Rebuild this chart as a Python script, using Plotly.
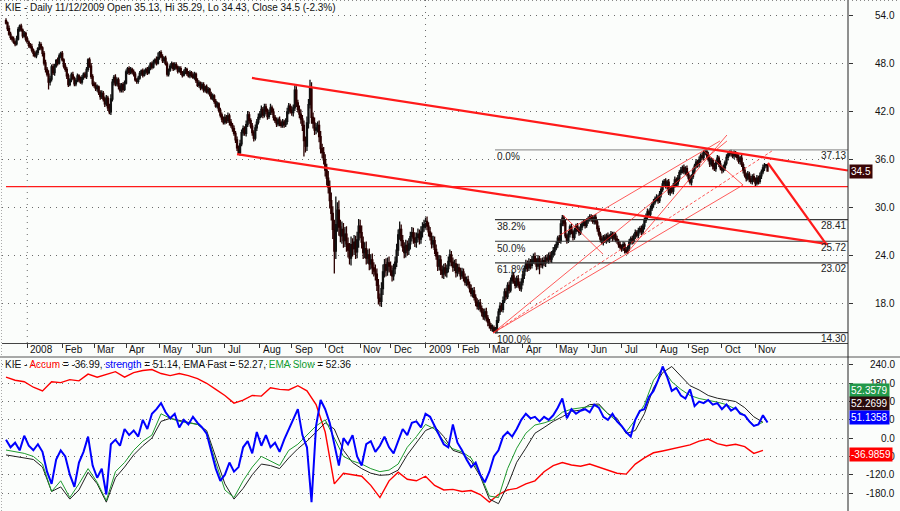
import plotly.graph_objects as go

W, H = 900, 511
FONT = "Liberation Sans, Arial, sans-serif"

# ---------------- data ----------------
month_labels = ["Dec", "2008", "Feb", "Mar", "Apr", "May", "Jun", "Jul", "Aug", "Sep", "Oct", "Nov", "Dec",
                "2009", "Feb", "Mar", "Apr", "May", "Jun", "Jul", "Aug", "Sep", "Oct", "Nov"]
month_days = [14, 23, 21, 21, 22, 22, 21, 23, 21, 22, 23, 20, 23,
              22, 20, 22, 22, 21, 22, 23, 21, 22, 22, 9]

first_open = 53.3
close = [
    # Dec 07
    53.0, 52.3, 51.6, 51.2, 51.0, 50.6, 50.4, 51.0, 52.2, 52.6, 52.1, 51.4, 51.7, 51.0,
    # Jan 08
    50.6, 50.2, 50.0, 49.6, 49.2, 48.9, 49.3, 49.8, 50.3, 49.9, 49.2, 48.0, 47.2, 46.6, 45.6, 46.0, 47.5, 46.8, 47.6, 48.3, 48.0, 48.9, 49.2,
    # Feb
    48.4, 47.6, 47.2, 46.4, 45.3, 45.9, 46.5, 46.1, 45.4, 45.8, 46.4, 45.9, 45.6, 46.2, 46.6, 46.3, 47.2, 48.4, 47.6, 46.3, 45.4,
    # Mar
    45.2, 44.8, 45.0, 44.3, 43.8, 44.2, 43.5, 42.9, 43.6, 42.4, 41.9, 43.5, 45.6, 46.2, 45.4, 45.9, 45.1, 44.6, 45.3, 44.7, 45.5,
    # Apr
    46.9, 47.3, 46.8, 47.2, 46.9, 46.6, 45.9, 45.7, 46.1, 46.7, 47.0, 46.5, 46.9, 47.2, 46.8, 47.4, 47.9, 47.5, 48.1, 48.4, 48.0, 48.7,
    # May
    49.3, 48.8, 48.3, 48.6, 47.9, 46.6, 47.1, 47.6, 47.9, 47.3, 47.8, 47.5, 47.0, 47.3, 46.8, 46.5, 46.9, 47.2, 46.7, 46.4, 46.8, 46.5,
    # Jun
    46.2, 46.6, 45.8, 45.2, 45.5, 44.9, 45.3, 44.6, 45.0, 44.4, 44.7, 44.1, 43.6, 43.9, 43.2, 42.6, 42.9, 42.1, 41.5, 41.0, 40.6,
    # Jul
    41.2, 40.8, 41.4, 40.6, 40.2, 39.8, 39.2, 38.4, 37.4, 36.8, 37.9, 39.3, 39.8, 39.2, 40.3, 41.5, 40.8, 40.1, 39.3, 38.6, 39.9, 40.6, 41.2,
    # Aug
    41.6, 42.2, 41.5, 42.5, 42.0, 41.3, 41.8, 42.4, 41.9, 41.2, 40.8, 40.4, 40.9, 40.5, 40.2, 40.6, 40.3, 40.7, 41.9, 42.6, 42.1,
    # Sep
    41.8, 42.4, 44.6, 43.0, 42.2, 41.6, 41.0, 40.2, 38.3, 37.6, 40.5, 42.8, 44.8, 41.2, 40.5, 39.6, 39.9, 40.2, 38.8, 37.3, 36.8, 35.9,
    # Oct
    34.6, 33.6, 32.5, 30.8, 29.2, 27.2, 24.5, 27.8, 29.6, 27.5, 26.4, 27.2, 25.8, 26.6, 25.4, 24.6, 23.6, 25.3, 24.8, 25.6, 24.4, 25.9, 27.6,
    # Nov
    26.8, 25.6, 24.3, 24.8, 23.6, 24.0, 22.9, 23.4, 22.4, 22.0, 21.6, 20.2, 18.6, 18.2, 19.8, 21.9, 22.8, 22.1, 23.0, 22.6,
    # Dec
    22.0, 21.4, 22.3, 23.1, 24.6, 26.5, 27.2, 25.8, 25.0, 24.3, 25.2, 24.6, 25.4, 26.3, 26.8, 26.1, 25.6, 26.2, 26.6, 26.0, 26.9, 27.5, 27.8,
    # Jan 09
    28.2, 27.6, 26.9, 26.3, 25.4, 25.8, 24.7, 23.9, 22.6, 23.4, 22.1, 21.6, 22.4, 21.8, 22.3, 23.2, 24.0, 23.1, 22.5, 22.9, 21.8, 22.4,
    # Feb
    22.0, 21.4, 21.9, 21.2, 20.6, 20.9, 20.3, 19.8, 19.2, 19.5, 18.7, 18.1, 17.6, 18.0, 17.3, 16.8, 16.3, 16.9, 16.1, 15.6,
    # Mar
    15.2, 14.8, 14.9, 14.5, 14.6, 15.8, 16.9, 17.6, 17.2, 18.3, 19.4, 18.8, 20.2, 19.6, 20.8, 21.4, 20.7, 20.2, 21.0, 20.3, 19.8, 20.6,
    # Apr
    21.5, 22.3, 22.9, 22.4, 23.1, 22.7, 23.4, 23.8, 23.2, 22.6, 23.5, 23.1, 22.8, 23.3, 23.0, 23.6, 23.4, 23.9, 23.5, 24.1, 24.5, 24.9,
    # May
    25.3, 26.1, 25.8, 27.9, 28.6, 28.0, 26.4, 25.8, 26.6, 27.5, 26.9, 26.2, 27.0, 27.6, 27.2, 26.8, 27.5, 27.9, 28.1, 27.7, 28.3,
    # Jun
    28.5, 28.8, 28.6, 28.2, 28.7, 28.1, 27.3, 26.6, 26.0, 25.6, 26.2, 25.8, 26.4, 25.9, 26.3, 26.6, 26.1, 26.5, 26.0, 25.7, 25.3, 25.0,
    # Jul
    24.8, 25.3, 24.6, 24.4, 24.9, 25.6, 26.0, 25.7, 26.4, 26.8, 26.5, 27.0, 27.3, 26.9, 27.6, 28.3, 28.9, 29.4, 29.1, 29.8, 30.3, 30.6, 31.0,
    # Aug
    31.2, 30.8, 31.6, 32.2, 32.9, 33.2, 32.6, 33.1, 31.8, 32.3, 32.0, 32.7, 33.4, 32.9, 33.6, 34.3, 34.6, 34.9, 34.4, 34.8, 34.1,
    # Sep
    33.6, 33.1, 33.8, 34.5, 35.1, 35.6, 35.3, 35.9, 36.4, 36.2, 36.8, 37.0, 36.5, 36.0, 35.4, 35.8, 35.1, 34.8, 35.6, 36.1, 35.4, 34.9,
    # Oct
    34.6, 34.9, 35.5, 36.2, 36.6, 36.9, 36.7, 36.4, 36.8, 36.5, 36.2, 35.7, 36.1, 35.3, 34.6, 34.0, 33.6, 34.1, 33.5, 33.2, 33.8, 33.4,
    # Nov
    33.0, 33.6, 33.2, 33.9, 34.4, 34.9, 35.2, 35.3, 34.5,
]

wick_hi = [
    .3, .2, .4, .3, .2, .3, .2, .4, .3, .2, .3, .2, .3, .2,
    .3, .2, .3, .4, .2, .3, .3, .2, .4, .3, .2, .3, .4, .3, .5, .4, .3, .4, .3, .2, .4, .3, .2,
    .3, .2, .4, .3, .3, .2, .3, .4, .2, .3, .3, .2, .4, .3, .2, .3, .3, .2, .3, .4, .3,
    .3, .4, .3, .2, .3, .4, .3, .3, .4, .3, .5, .6, .4, .3, .4, .3, .3, .4, .2, .3, .3,
    .3, .2, .3, .3, .2, .3, .3, .2, .3, .3, .2, .3, .3, .2, .3, .3, .2, .3, .3, .2, .4, .6,
    .2, .3, .3, .2, .3, .3, .2, .3, .3, .2, .3, .3, .2, .3, .3, .2, .3, .3, .2, .3, .3, .2,
    .3, .3, .2, .3, .3, .2, .3, .3, .2, .3, .3, .2, .3, .3, .2, .3, .3, .2, .3, .3, .3,
    .4, .3, .4, .3, .4, .3, .4, .3, .4, .3, .5, .4, .4, .3, .5, .5, .4, .3, .4, .3, .4, .4, .5,
    .4, .5, .3, .4, .4, .3, .4, .5, .3, .4, .3, .4, .3, .4, .3, .4, .3, .4, .5, .4, .3,
    .5, .4, .6, .5, .4, .5, .6, .5, .6, .5, .8, .7, 1.1, .8, .6, .7, .6, .5, .6, .7, .6, .7,
    .7, .8, .9, .8, 1.0, .9, 1.2, 3.5, 1.0, 1.2, .9, 1.0, .8, .9, 1.0, .8, .9, 1.0, .8, .9, .8, 1.0, .9,
    .8, .9, .7, .8, .9, .7, .8, .7, .8, .7, .8, .7, .8, .6, .8, .9, .7, .8, .7, .8,
    .6, .7, .6, .7, .8, .7, 1.0, .6, .7, .6, .7, .6, .7, .6, .7, .6, .7, .6, .7, .6, .7, .6, .6,
    .5, .6, .5, .6, .5, .6, .5, .6, .5, .6, .5, .6, .5, .6, .5, .6, .7, .5, .6, .5, .6, .5,
    .5, .4, .5, .4, .5, .4, .5, .4, .5, .4, .5, .4, .5, .4, .5, .4, .5, .4, .5, .4,
    .4, .3, .4, .3, .4, .5, .4, .5, .4, .5, .4, .5, .4, .5, .4, .5, .4, .5, .4, .5, .4, .5,
    .5, .4, .5, .4, .5, .4, .5, .4, .5, .4, .5, .4, .5, .4, .5, .4, .5, .4, .5, .4, .5, .4,
    .4, .3, .4, .5, .4, .3, .4, .3, .4, .3, .4, .3, .4, .3, .4, .3, .4, .3, .4, .3, .3,
    .3, .3, .3, .4, .3, .4, .3, .4, .3, .4, .3, .4, .3, .4, .3, .4, .3, .4, .3, .4, .3, .4,
    .3, .4, .3, .4, .3, .4, .3, .4, .3, .4, .3, .4, .3, .4, .3, .4, .3, .4, .3, .4, .3, .4, .3,
    .4, .3, .4, .3, .4, .3, .4, .3, .4, .3, .4, .3, .4, .3, .4, .3, .4, .3, .4, .3, .4,
    .3, .4, .3, .4, .3, .4, .3, .4, .3, .4, .3, .13, .3, .4, .3, .4, .3, .4, .3, .4, .3, .4,
    .3, .4, .3, .4, .3, .2, .3, .2, .3, .2, .3, .4, .3, .4, .3, .4, .3, .4, .3, .4, .3, .4,
    .3, .4, .3, .4, .3, .4, .3, .0, .0,
]

wick_lo = [
    .2, .3, .2, .3, .3, .2, .3, .2, .2, .3, .2, .3, .2, .3,
    .2, .3, .2, .3, .4, .2, .3, .3, .2, .3, .4, .3, .4, .3, .9, .4, .3, .3, .4, .2, .3, .2, .3,
    .2, .3, .3, .4, .3, .2, .3, .2, .3, .3, .2, .3, .2, .3, .3, .2, .3, .3, .2, .3, .3,
    .3, .3, .4, .3, .4, .3, .3, .4, .3, .4, .3, .4, .3, .4, .3, .3, .4, .3, .3, .4, .2,
    .2, .3, .3, .2, .3, .3, .2, .3, .3, .2, .3, .3, .2, .3, .3, .2, .3, .3, .2, .3, .3, .2,
    .3, .2, .3, .3, .2, .3, .3, .2, .3, .3, .2, .3, .3, .2, .3, .3, .2, .3, .3, .2, .3, .3,
    .2, .3, .3, .2, .3, .3, .2, .3, .3, .2, .3, .3, .2, .3, .3, .2, .3, .3, .3, .4, .3,
    .3, .4, .3, .4, .3, .4, .3, .4, .4, .2, .4, .3, .4, .3, .4, .3, .4, .3, .4, .4, .3, .4, .3,
    .3, .4, .4, .3, .4, .4, .3, .3, .4, .4, .3, .4, .3, .4, .3, .3, .4, .3, .4, .3, .4,
    .4, .5, .4, .5, .4, .5, .6, .7, 2.0, .8, .6, .7, .5, .8, .7, .6, .5, .6, .7, .6, .7, .6,
    .8, .9, .8, 1.0, .9, 1.2, 2.8, 1.0, .9, 1.1, .8, 1.0, .9, .8, 1.0, .9, .8, .9, 1.0, .8, .9, .8, 1.0,
    .7, .8, .8, .7, .8, .7, .8, .7, .8, .7, .8, .7, .8, .6, .7, .8, .7, .8, .7, .8,
    .6, .7, .6, .7, .6, .7, .6, .7, .6, .7, .6, .7, .6, .7, .6, .7, .6, .7, .6, .7, .6, .7, .6,
    .6, .5, .6, .5, .6, .5, .6, .5, .6, .5, .6, .5, .6, .5, .6, .5, .6, .5, .6, .5, .6, .5,
    .4, .5, .4, .5, .4, .5, .4, .5, .4, .5, .4, .5, .4, .5, .4, .5, .4, .5, .4, .5,
    .4, .3, .4, .2, .3, .4, .3, .4, .3, .4, .3, .4, .3, .4, .3, .4, .3, .4, .3, .4, .3, .4,
    .4, .5, .4, .5, .4, .5, .4, .5, .4, .5, .4, 1.5, .4, .5, .4, .5, .4, .5, .4, .5, .4, .5,
    .3, .4, .3, .4, .3, .4, .3, .4, .3, .4, .3, .4, .3, .4, .3, .4, .3, .4, .3, .4, .3,
    .4, .3, .4, .3, .4, .3, .4, .3, .4, .3, .4, .3, .4, .3, .4, .3, .4, .3, .4, .3, .4, .3,
    .4, .3, .4, .2, .3, .4, .3, .4, .3, .4, .3, .4, .3, .4, .3, .4, .3, .4, .3, .4, .3, .4, .3,
    .3, .4, .3, .4, .3, .4, .3, .4, .3, .4, .3, .4, .3, .4, .3, .4, .3, .4, .3, .4, .3,
    .4, .3, .4, .3, .4, .3, .4, .3, .4, .3, .4, .3, .4, .3, .4, .3, .4, .3, .4, .3, .4, .3,
    .4, .3, .4, .3, .4, .3, .4, .3, .4, .3, .4, .3, .4, .3, .4, .3, .4, .3, .4, .3, .4, .3,
    .4, .3, .4, .3, .4, .3, .4, .3, .07,
]

# indicator panel: strength sampled every 3 bars, the others every 6 bars
strength_step = 3
strength = [
    -5, -30, -15, -40, 8, -25, -40, -20, -45, -110,
    -150, -70, -40, -60, -120, -160, -80, -45, 5, -90,
    -130, -100, -185, -20, -5, -25, 30, 10, 25, 5,
    60, 30, 80, 95, 115, 85, 65, 80, 35, 60,
    45, 70, 50, 35, 15, -40, -100, -140, -120, -80,
    -110, -95, -30, -10, -50, 20, -25, 10, -30, -15,
    -45, -5, 30, 60, 95, 10, -30, -210, 40, 125,
    95, 50, -20, -90, 0, -20, 10, -60, -90, -20,
    -10, -45, -25, 5, -30, -50, -10, 30, 10, 50,
    55, 35, 80, 70, 40, 10, -20, -30, 45, -15,
    -40, -70, -95, -80, -120, -145, -110, -60, -40, 5,
    20, 5, 30, 60, 80, 65, 70, 55, 70, 60,
    75, 100, 130, 65, 95, 80, 90, 95, 85, 110,
    100, 70, 60, 80, 55, 40, 20, 5, 60, 90,
    95, 135, 155, 190, 235, 200, 155, 165, 140, 130,
    160, 105, 120, 115, 125, 110, 115, 95, 110, 90,
    100, 80, 75, 55, 40, 45, 75, 51,
]
line_step = 6
ema_slow = [
    -39, -45, -50, -60, -85, -175, -140, -195, -150, -100,
    -145, -205, -110, -80, -40, -10, 10, 80, 65, 55,
    50, 45, 20, -80, -170, -195, -140, -95, -60, -75,
    -90, -40, -20, 10, 40, 60, 0, -60, -75, -85,
    -100, -110, -105, -85, -30, 5, 45, 30, -10, -35,
    -45, -65, -120, -190, -195, -100, -33, 16, 43, 50,
    60, 85, 95, 100, 105, 108, 80, 55, 20, 60,
    110, 190, 229, 185, 160, 140, 130, 125, 118, 110,
    95, 75, 40, 52,
]
ema_fast = [
    -55, -60, -65, -70, -95, -175, -160, -200, -170, -112,
    -150, -210, -130, -95, -55, -25, 0, 55, 65, 58,
    52, 45, 25, -60, -150, -200, -165, -120, -85, -90,
    -100, -65, -35, -10, 20, 50, 30, -40, -80, -100,
    -115, -122, -120, -105, -55, -15, 25, 38, 5, -40,
    -50, -75, -125, -200, -215, -155, -79, -33, 16, 35,
    55, 70, 88, 92, 110, 112, 80, 65, 15, 25,
    80, 165, 215, 235, 205, 172, 158, 140, 131, 125,
    120, 100, 70, 52,
]
accum = [
    200, 190, 185, 167, 155, 185, 182, 192, 188, 210,
    200, 210, 218, 200, 215, 222, 225, 212, 205, 212,
    205, 195, 180, 160, 140, 115, 125, 140, 138, 165,
    160, 158, 172, 155, 110, 20, -150, -115, -120, -125,
    -155, -195, -140, -112, -135, -140, -125, -155, -170, -168,
    -175, -172, -185, -210, -185, -170, -165, -150, -140, -110,
    -90, -80, -88, -92, -85, -95, -105, -115, -118, -85,
    -65, -48, -42, -35, -30, -22, -10, -3, -18, -25,
    -20, -28, -50, -40,
]
last_values = ["52.3579", "52.2699", "51.1358", "-36.9859"]

price_ticks = [54, 48, 42, 36, 30, 24, 18]
ind_ticks = [240, 180, 120, 60, 0, -60, -120, -180]

fib_labels = ["0.0%", "38.2%", "50.0%", "61.8%", "100.0%"]
fib_price = [37.13, 28.41, 25.72, 23.02, 14.30]
fib_start_bar = 321.7

# drawn trend lines: (bar index, price)
channel_upper = [(161.8, 46.13), (553.9, 34.56)]
channel_lower = [(152.0, 36.6), (540.8, 25.35)]
support_price = 32.55
projection = [(501.3, 35.5), (539.5, 25.4)]
fan_lines = [
    [(320.4, 14.25), (474.3, 38.25)],
    [(320.4, 14.25), (484.9, 32.75)],
    [(364.5, 26.5), (469.7, 38.25)],
    [(408.6, 24.25), (474.3, 39.0)],
    [(366.4, 29.0), (392.8, 24.1)],
    [(458.6, 37.1), (484.9, 32.75)],
]
fan_dashed = [(320.4, 14.25), (503.9, 37.0)]

# ---------------- checks / derived ----------------
n = len(close)
assert sum(month_days) == n, (sum(month_days), n)
assert len(wick_hi) == n and len(wick_lo) == n, (len(wick_hi), len(wick_lo), n)

opens = [first_open] + close[:-1]
highs = [max(o, c) + w for o, c, w in zip(opens, close, wick_hi)]
lows = [min(o, c) - w for o, c, w in zip(opens, close, wick_lo)]
bars = list(range(n))

month_start = []
acc = 0
for d in month_days:
    month_start.append(acc)
    acc += d

# pixel helpers (layout only)
def py(p):
    return 1 - p / H

def pxx(p):
    return p / W

XR = [-2.63, 553.95]
MAIN_DOM = [py(343), 1.0]
IND_DOM = [0.0, py(357)]
BG = "#fbfdfb"

fig = go.Figure()

fig.add_trace(go.Candlestick(
    x=bars, open=opens, high=highs, low=lows, close=close,
    increasing=dict(line=dict(color="#111111", width=1.3), fillcolor="#c8c8c8"),
    decreasing=dict(line=dict(color="#2a0000", width=1.3), fillcolor="#5e0000"),
    whiskerwidth=0, hoverinfo="skip", showlegend=False, xaxis="x", yaxis="y",
))

def seg(pts, color, width, dash="solid", xa="x", ya="y"):
    fig.add_trace(go.Scatter(
        x=[p[0] for p in pts], y=[p[1] for p in pts], mode="lines",
        line=dict(color=color, width=width, dash=dash),
        hoverinfo="skip", showlegend=False, xaxis=xa, yaxis=ya))

# fibonacci levels
for lab, pr in zip(fib_labels, fib_price):
    col = "#9a9a9a" if lab == "0.0%" else "#3a3a3a"
    seg([(fib_start_bar, pr), (XR[1], pr)], col, 1.2)

# thin fan lines
for fl in fan_lines:
    seg(fl, "rgba(255,40,40,0.85)", 0.9)
seg(fan_dashed, "rgba(255,40,40,0.85)", 0.9, dash="3px,2px")

# thick red lines
seg([(0, support_price), (XR[1], support_price)], "#ff1a1a", 1.3)
seg(channel_upper, "#ff1a1a", 2.2)
seg(channel_lower, "#ff1a1a", 2.2)
seg(projection, "#ff1a1a", 2.2)

# indicator lines
xs6 = [i * line_step for i in range(len(accum))]
xs3 = [i * strength_step for i in range(len(strength))]
fig.add_trace(go.Scatter(x=xs6, y=accum, mode="lines", line=dict(color="#ff0000", width=1.4),
                         hoverinfo="skip", showlegend=False, xaxis="x2", yaxis="y2"))
fig.add_trace(go.Scatter(x=xs6, y=ema_fast, mode="lines", line=dict(color="#202020", width=1),
                         hoverinfo="skip", showlegend=False, xaxis="x2", yaxis="y2"))
fig.add_trace(go.Scatter(x=xs6, y=ema_slow, mode="lines", line=dict(color="#1f9a2f", width=1),
                         hoverinfo="skip", showlegend=False, xaxis="x2", yaxis="y2"))
fig.add_trace(go.Scatter(x=xs3, y=strength, mode="lines", line=dict(color="#0000ff", width=2),
                         hoverinfo="skip", showlegend=False, xaxis="x2", yaxis="y2"))

grid = dict(showgrid=True, gridcolor="#6a6a6a", griddash="1px,5px", gridwidth=1)

fig.update_layout(
    width=W, height=H, autosize=False,
    margin=dict(l=0, r=0, t=0, b=0, pad=0),
    paper_bgcolor=BG, plot_bgcolor=BG,
    hovermode=False, showlegend=False, boxgap=0.05,
    font=dict(family=FONT, size=10, color="#111"),
    xaxis=dict(domain=[pxx(2), pxx(848)], range=XR, anchor="y",
               tickvals=month_start[1:], ticks="outside", ticklen=4, tickcolor="#333",
               showticklabels=False, showgrid=False, zeroline=False,
               showline=True, linecolor="#444", linewidth=1,
               rangeslider=dict(visible=False), fixedrange=True),
    yaxis=dict(domain=MAIN_DOM, range=[13.0, 55.875], side="right", anchor="x",
               tickvals=price_ticks, ticks="outside", ticklen=4, tickcolor="#333",
               showticklabels=False, zeroline=False, showline=False, fixedrange=True, **grid),
    xaxis2=dict(domain=[pxx(2), pxx(848)], range=XR, anchor="y2",
                showticklabels=False, ticks="", showgrid=False, zeroline=False, fixedrange=True),
    yaxis2=dict(domain=IND_DOM, range=[-239.05, 266.2], side="right", anchor="x2",
                tickvals=ind_ticks, ticks="outside", ticklen=4, tickcolor="#333",
                showticklabels=False, zeroline=False, showline=False, fixedrange=True, **grid),
)

shapes = []
# year separators (dotted) in price panel
for mi, lab in enumerate(month_labels):
    if lab in ("2008", "2009"):
        shapes.append(dict(type="line", xref="x", yref="paper", x0=month_start[mi], x1=month_start[mi],
                           y0=MAIN_DOM[0], y1=1, line=dict(color="#6a6a6a", width=1, dash="1px,5px")))
shapes += [
    dict(type="line", xref="paper", yref="paper", x0=0, x1=1, y0=py(357), y1=py(357),
         line=dict(color="#555", width=1)),
    dict(type="line", xref="paper", yref="paper", x0=pxx(848), x1=pxx(848), y0=0, y1=1,
         line=dict(color="#222", width=1)),
    dict(type="line", xref="paper", yref="paper", x0=0, x1=1, y0=py(0.5), y1=py(0.5),
         line=dict(color="#888", width=1, dash="1px,3px")),
    dict(type="line", xref="paper", yref="paper", x0=pxx(1.5), x1=pxx(1.5), y0=0, y1=1,
         line=dict(color="#aaa", width=1, dash="1px,2px")),
]
fig.update_layout(shapes=shapes)

ann = []
ann.append(dict(xref="paper", yref="paper", x=pxx(3), y=py(7), xanchor="left", yanchor="middle",
                text="KIE - Daily 11/12/2009 Open 35.13, Hi 35.29, Lo 34.43, Close 34.5 (-2.3%)",
                showarrow=False, font=dict(size=10, color="#111")))
ann.append(dict(xref="paper", yref="paper", x=pxx(3), y=py(364), xanchor="left", yanchor="middle",
                text=("KIE - <span style='color:#ff0000'>Accum</span> = -36.99, "
                      "<span style='color:#0000ff'>strength</span> = 51.14, EMA Fast = 52.27, "
                      "<span style='color:#13a032'>EMA Slow</span> = 52.36"),
                showarrow=False, font=dict(size=10, color="#111")))

# month labels
for mi in range(1, len(month_labels)):
    ann.append(dict(xref="x", yref="paper", x=month_start[mi], y=py(349.5), xanchor="left",
                    yanchor="middle", xshift=1, text=month_labels[mi], showarrow=False,
                    font=dict(size=10, color="#111")))

# right axis labels
for v in price_ticks:
    ann.append(dict(xref="paper", yref="y", x=pxx(897), y=v, xanchor="right", yanchor="middle",
                    text=f"{v:.1f}", showarrow=False, font=dict(size=10, color="#111")))
for v in ind_ticks:
    ann.append(dict(xref="paper", yref="y2", x=pxx(897), y=v, xanchor="right", yanchor="middle",
                    text=f"{v:.1f}", showarrow=False, font=dict(size=10, color="#111")))

# fibonacci labels
for lab, pr in zip(fib_labels, fib_price):
    ann.append(dict(xref="x", yref="y", x=fib_start_bar, y=pr, xanchor="left", yanchor="middle",
                    yshift=-7, text=lab, showarrow=False, font=dict(size=10, color="#222")))
    ann.append(dict(xref="paper", yref="y", x=pxx(848), y=pr, xanchor="right", yanchor="middle",
                    yshift=-6, text=f"{pr:.2f}", showarrow=False, font=dict(size=10, color="#222")))

# last price box
ann.append(dict(xref="paper", yref="y", x=pxx(849), y=close[-1], xanchor="left", yanchor="middle",
                text=f"{close[-1]}", showarrow=False, bgcolor="#3a0606", borderpad=1,
                font=dict(size=10, color="#ffffff")))

# indicator value boxes (drawn over the axis labels, as in the original)
box_cols = ["#22994a", "#2a0c0c", "#0000ff", "#ff0000"]
box_y = [390, 403, 417, 454]
for txt, col, yy in zip(last_values, box_cols, box_y):
    ann.append(dict(xref="paper", yref="paper", x=pxx(849), y=py(yy), xanchor="left", yanchor="middle",
                    text=txt, showarrow=False, bgcolor=col, borderpad=1,
                    font=dict(size=10, color="#ffffff")))

fig.update_layout(annotations=ann)

fig.write_html("out.html")
